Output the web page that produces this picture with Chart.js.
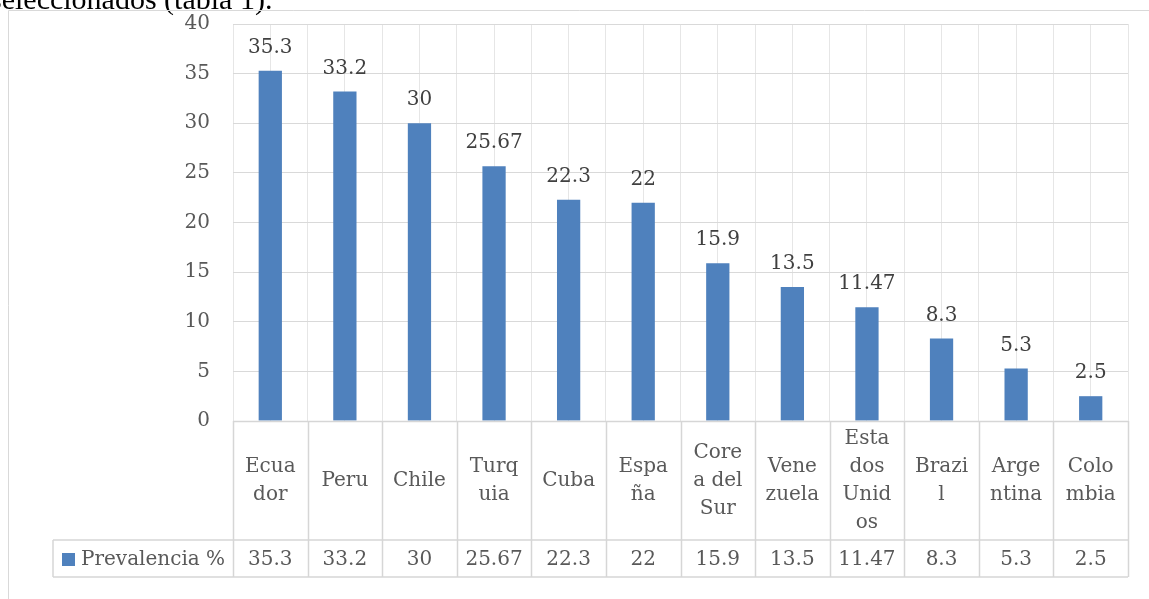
<!DOCTYPE html>
<html>
<head>
<meta charset="utf-8">
<script src="https://cdn.jsdelivr.net/npm/chart.js@4/dist/chart.umd.min.js"></script>
<style>
  html, body { margin: 0; padding: 0; background: #ffffff; overflow: hidden; }
  canvas { display: block; }
</style>
</head>
<body>
<canvas id="c" width="1149" height="599"></canvas>
<script>
const pageText = "seleccionados (tabla 1).";
const categories = ["Ecuador", "Peru", "Chile", "Turquia", "Cuba", "España", "Corea del Sur", "Venezuela", "Estados Unidos", "Brazil", "Argentina", "Colombia"];
const categoryLines = [["Ecua","dor"], ["Peru"], ["Chile"], ["Turq","uia"], ["Cuba"], ["Espa","ña"], ["Core","a del","Sur"], ["Vene","zuela"], ["Esta","dos","Unid","os"], ["Brazi","l"], ["Arge","ntina"], ["Colo","mbia"]];
const seriesName = "Prevalencia %";
const prevalencia = [35.3, 33.2, 30, 25.67, 22.3, 22, 15.9, 13.5, 11.47, 8.3, 5.3, 2.5];
const valueLabels = ["35.3", "33.2", "30", "25.67", "22.3", "22", "15.9", "13.5", "11.47", "8.3", "5.3", "2.5"];
const yTicks = [0, 5, 10, 15, 20, 25, 30, 35, 40];

const FONT = '"DejaVu Serif", serif';
const FS = 20;
const BLUE = '#4f81bd';
const GRID = '#d9d9d9';

const tablePlugin = {
  id: 'tablePlugin',
  beforeDraw(chart) {
    const ctx = chart.ctx;
    ctx.save();
    ctx.fillStyle = '#000000';
    ctx.font = '30px "Liberation Serif", serif';
    ctx.textAlign = 'left';
    ctx.textBaseline = 'alphabetic';
    ctx.fillText(pageText, -10, 9);
    ctx.strokeStyle = '#d9d9d9';
    ctx.lineWidth = 1;
    ctx.beginPath();
    ctx.moveTo(8.5, 600);
    ctx.lineTo(8.5, 10.5);
    ctx.lineTo(1160, 10.5);
    ctx.stroke();
    ctx.restore();
  },
  afterDraw(chart) {
    const ctx = chart.ctx;
    const xs = chart.scales.x;
    const area = chart.chartArea;
    const n = categories.length;
    const left = area.left, right = area.right;
    const top = area.bottom;
    const rowSplit = top + 119;
    const bottom = rowSplit + 37;
    const legendLeft = 53;
    const step = (right - left) / n;

    ctx.save();
    // data labels above bars
    const meta = chart.getDatasetMeta(0);
    ctx.fillStyle = '#404040';
    ctx.font = FS + 'px ' + FONT;
    ctx.textAlign = 'center';
    ctx.textBaseline = 'middle';
    meta.data.forEach((bar, i) => {
      ctx.fillText(valueLabels[i], bar.x, bar.y - 23);
    });

    // table lines
    ctx.strokeStyle = '#d6d6d6';
    ctx.lineWidth = 1.5;
    ctx.beginPath();
    ctx.moveTo(left, top + 0.5); ctx.lineTo(right, top + 0.5);
    ctx.moveTo(legendLeft, rowSplit); ctx.lineTo(right, rowSplit);
    ctx.moveTo(legendLeft, bottom); ctx.lineTo(right, bottom);
    ctx.moveTo(legendLeft, rowSplit); ctx.lineTo(legendLeft, bottom);
    for (let i = 0; i <= n; i++) {
      const x = Math.round(left + i * step) + 0.5;
      ctx.moveTo(x, top); ctx.lineTo(x, bottom);
    }
    ctx.stroke();

    // category labels
    ctx.fillStyle = '#595959';
    ctx.font = FS + 'px ' + FONT;
    const lh = 28;
    const midHeader = (top + rowSplit) / 2;
    categoryLines.forEach((lines, i) => {
      const cx = xs.getPixelForValue(i);
      const startY = midHeader - (lines.length - 1) * lh / 2;
      lines.forEach((ln, j) => ctx.fillText(ln, cx, startY + j * lh));
    });
    // values row
    const midVal = (rowSplit + bottom) / 2 + 1;
    valueLabels.forEach((v, i) => {
      ctx.fillText(v, xs.getPixelForValue(i), midVal);
    });
    // legend key
    ctx.fillStyle = BLUE;
    ctx.fillRect(62, midVal - 6.5, 13, 13);
    ctx.fillStyle = '#595959';
    ctx.textAlign = 'left';
    ctx.fillText(seriesName, 81, midVal);
    ctx.restore();
  }
};

new Chart(document.getElementById('c'), {
  type: 'bar',
  data: {
    labels: categories,
    datasets: [{
      label: seriesName,
      data: prevalencia,
      backgroundColor: BLUE,
      borderWidth: 0,
      categoryPercentage: 0.8,
      barPercentage: 0.39,
      xAxisID: 'x'
    }]
  },
  options: {
    responsive: false,
    animation: false,
    devicePixelRatio: 1,
    layout: { padding: { left: 0, top: 24, right: 21, bottom: 178 } },
    plugins: { legend: { display: false }, tooltip: { enabled: false } },
    scales: {
      x: {
        type: 'category',
        position: 'bottom',
        offset: true,
        grid: { offset: true, color: '#e6e6e6', drawTicks: false },
        border: { display: false },
        ticks: { display: false }
      },
      x2: {
        type: 'category',
        position: 'bottom',
        offset: true,
        grid: { offset: false, color: '#e6e6e6', drawTicks: false },
        border: { display: false },
        ticks: { display: false }
      },
      y: {
        min: 0,
        max: 40,
        afterBuildTicks: (scale) => { scale.ticks = yTicks.map(v => ({ value: v })); },
        afterFit: (scale) => { scale.width = 233; scale.paddingTop = 0; scale.paddingBottom = 0; },
        grid: { color: GRID, drawTicks: false },
        border: { display: false },
        ticks: { padding: 23, color: '#595959', font: { family: FONT, size: FS } }
      }
    }
  },
  plugins: [tablePlugin]
});
</script>
</body>
</html>
